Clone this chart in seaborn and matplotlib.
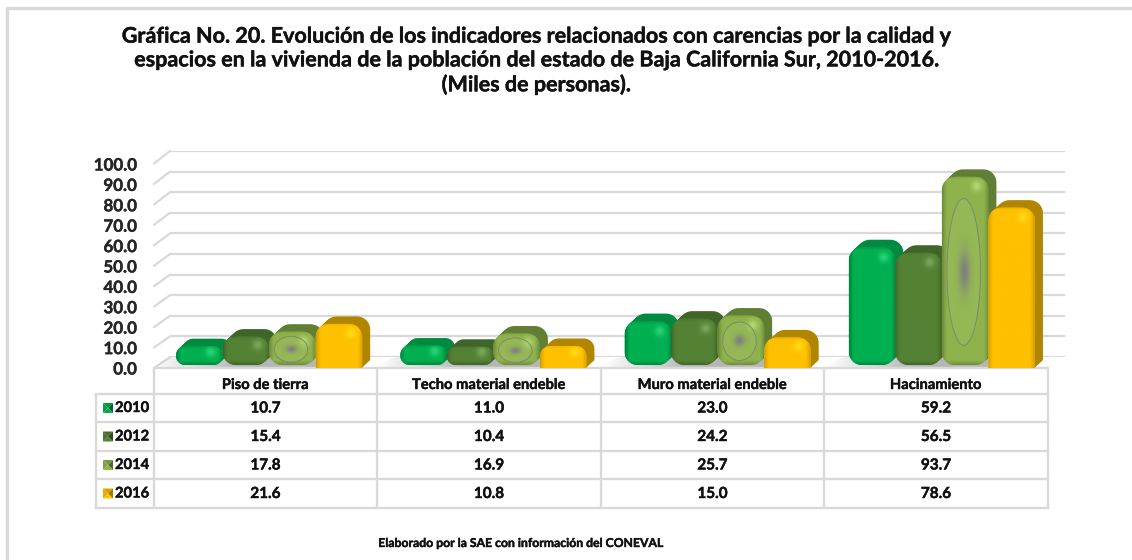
import numpy as np
import pandas as pd
import matplotlib
matplotlib.use("Agg")
import matplotlib.pyplot as plt
import matplotlib.patheffects as pe
import matplotlib.text as mtext
import seaborn as sns
from matplotlib.patches import Polygon, Ellipse
from matplotlib.colors import to_rgb
from matplotlib.ticker import FormatStrFormatter

categories = ["Piso de tierra", "Techo material endeble", "Muro material endeble", "Hacinamiento"]
years = ["2010", "2012", "2014", "2016"]
v2010 = [10.7, 11.0, 23.0, 59.2]
v2012 = [15.4, 10.4, 24.2, 56.5]
v2014 = [17.8, 16.9, 25.7, 93.7]
v2016 = [21.6, 10.8, 15.0, 78.6]
series = [v2010, v2012, v2014, v2016]
title = ("Gráfica No. 20. Evolución de los indicadores relacionados con carencias por la calidad y\n"
         "espacios en la vivienda de la población del estado de Baja California Sur, 2010-2016.\n"
         "(Miles de personas).")
source = "Elaborado por la SAE con información del CONEVAL"
front = ["#00B050", "#548235", "#8FB34C", "#FFC000"]
edge = ["#007A3A", "#3A5C24", "#64803A", "#C99700"]
side = ["#008A40", "#3F6528", "#617F34", "#B08500"]
GRID = "#D9D9D9"

W, H = 1132, 560
sns.set_theme(style="white")
plt.rcParams["font.family"] = ["Lato", "DejaVu Sans"]
plt.rcParams["font.weight"] = "bold"
plt.rcParams["text.color"] = "#111111"
fig = plt.figure(figsize=(W / 100, H / 100), dpi=100, facecolor="white")


def box(l, t, r, b):
    return [l / W, 1 - b / H, (r - l) / W, (b - t) / H]


# back wall with its grid
back = fig.add_axes(box(170, 151, 1065, 357), zorder=0)
back.set_ylim(0, 100)
back.set_xlim(0, 1)
back.set_yticks(np.arange(0, 101, 10))
back.set_xticks([])
back.tick_params(left=False, labelleft=False)
back.grid(axis="y", color=GRID, lw=1.6)
back.set_axisbelow(True)
sns.despine(ax=back, left=True, bottom=True)

# pixel overlay for the 3D look
ov = fig.add_axes([0, 0, 1, 1], zorder=1)
ov.patch.set_alpha(0)
ov.axis("off")

# main chart through seaborn
ax = fig.add_axes(box(157, 164, 1054, 368), zorder=2)
ax.patch.set_alpha(0)
df = pd.DataFrame({"cat": np.repeat(categories, 4),
                   "year": years * 4,
                   "val": [series[j][i] for i in range(4) for j in range(4)]})
sns.barplot(data=df, x="cat", y="val", hue="year", order=categories, hue_order=years,
            palette=front, width=0.83, gap=0, dodge=True, legend=False, errorbar=None, ax=ax)
ax.set_xlim(-0.5, 3.5)
ax.set_ylim(0, 100)
ax.set_yticks(np.arange(0, 101, 10))
ax.yaxis.set_major_formatter(FormatStrFormatter("%.1f"))
ax.tick_params(axis="y", left=False, pad=8.6, labelsize=12.2)
ax.tick_params(axis="x", bottom=False, labelbottom=False)
ax.set_xlabel("")
ax.set_ylabel("")
ax.grid(False)
sns.despine(ax=ax, left=True, bottom=True)

fig.canvas.draw()
bars = []
for k, p in enumerate(ax.patches[:len(years) * len(categories)]):
    (x0, y0), (x1, y1) = ax.transData.transform([(p.get_x(), 0), (p.get_x() + p.get_width(), p.get_height())])
    bars.append((k // len(categories), x0, H - y1, x1 - x0, H - y0))
    p.set_alpha(0)

ov.set_xlim(0, W)
ov.set_ylim(H, 0)

# page frame
ov.add_line(plt.Line2D([6.5, 6.5, W], [H, 8, 8], color=GRID, lw=2.4))

# left wall slants
for k in range(11):
    ov.plot([154, 170], [368 - 20.45 * k, 357 - 20.6 * k], color=GRID, lw=1.6, zorder=1)

col_edges = [154, 377, 601, 824, 1048]
row_edges = [394, 422, 451, 479, 508]

# floor shadows
for c in range(4):
    left = bars[c][1]
    right = left + 186
    shade = np.zeros((1, 100, 4))
    shade[..., :3] = 0.62
    shade[..., 3] = np.clip(np.linspace(0, 1.8, 100), 0, 0.75)
    im = ov.imshow(shade, extent=(left - 24, right, 368, 357), aspect="auto", zorder=1.1)
    poly = Polygon([(left - 24, 367.5), (left - 6, 357), (right, 357), (right, 367.5)],
                   closed=True, fc="none", ec="none", transform=ov.transData)
    ov.add_patch(poly)
    im.set_clip_path(poly)


def outline(x, top, w, h, r, square):
    """Rounded bar outline, in pixels, from the bar's own geometry."""
    a = np.linspace(0, np.pi / 2, 10)
    pts = []
    pts += [(x + r - r * np.cos(t), top + r - r * np.sin(t)) for t in a]
    pts += [(x + w - r + r * np.sin(t), top + r - r * np.cos(t)) for t in a]
    if square:
        pts += [(x + w, top + h), (x, top + h)]
    else:
        pts += [(x + w - r + r * np.cos(t), top + h - r + r * np.sin(t)) for t in a]
        pts += [(x + r - r * np.sin(t), top + h - r + r * np.cos(t)) for t in a]
    return pts


for j in range(4):          # categories
    for s in range(4):      # series, left to right so that each overlaps the last
        _, x, top, w, bottom_raw = bars[s * 4 + j]
        z = 2 + j + s * 0.1
        square = s == 3
        bottom = bottom_raw - 3 if not square else bottom_raw
        h = bottom - top
        r = min(13, h / 2 - 0.5)
        dx, dy = 8, 7.5
        for q in range(1, 9):
            ov.add_patch(Polygon(outline(x + dx * q / 8, top - dy * q / 8, w, h, r, square),
                                 closed=True, fc=side[s], ec="none", zorder=z))
        # front face with shaded rim
        cols, rows = max(int(w * 2), 2), max(int(h * 2), 2)
        xx, yy = np.meshgrid((np.arange(cols) + .5) / 2, (np.arange(rows) + .5) / 2)
        bot = np.full_like(yy, 99.0) if square else h - yy
        d = np.minimum.reduce([xx, w - xx, yy + 2, bot])
        t = np.clip(d / 5.0, 0, 1) ** 0.7
        base = np.array(to_rgb(front[s]))
        dark = np.array(to_rgb(edge[s]))
        img = dark[None, None, :] + (base - dark)[None, None, :] * t[..., None]
        hx, hy = w * 0.74, min(10, h * 0.3)
        g = np.exp(-(((xx - hx) / 5) ** 2 + ((yy - hy) / 5) ** 2))
        light = np.array([1.0, 0.93, 0.15]) if s == 3 else np.minimum(base + 0.25, 1)
        img = img + (light - img) * (0.6 * g)[..., None]
        fp = Polygon(outline(x, top, w, h, r, square), closed=True, fc=front[s], ec="none", zorder=z + 0.01)
        ov.add_patch(fp)
        im = ov.imshow(img, extent=(x, x + w, bottom, top), aspect="auto", zorder=z + 0.02)
        im.set_clip_path(fp)
        if s == 2:  # dished centre of this series
            cx, cy = x + w * 0.47, top + h / 2 + 1
            eh, ew = h * 0.78, w * 0.72
            ov.add_patch(Ellipse((cx, cy), ew, eh, fc="#A3BF66", ec="none", alpha=0.35, zorder=z + 0.04))
            ov.add_patch(Ellipse((cx, cy), ew, eh, fc="none", ec="#7E8A6A", lw=0.7, zorder=z + 0.04))
            gx, gy = np.meshgrid(np.linspace(-1, 1, 30), np.linspace(-1, 1, 60))
            core = np.zeros((60, 30, 4))
            core[..., :3] = 0.50
            core[..., 3] = np.exp(-(gx ** 2 + gy ** 2) * 3.5)
            ov.imshow(core, extent=(cx - ew * 0.3, cx + ew * 0.3, cy + eh * 0.26, cy - eh * 0.26),
                      aspect="auto", zorder=z + 0.05)

# data table
tb_left = 96
for y in row_edges:
    ov.plot([tb_left, col_edges[-1]], [y, y], color=GRID, lw=1.7, zorder=1.2)
ov.plot([tb_left, tb_left], [row_edges[0], row_edges[-1]], color=GRID, lw=1.7, zorder=1.2)
ov.plot([col_edges[0], col_edges[-1]], [368, 368], color=GRID, lw=1.7, zorder=1.2)
for x in col_edges:
    ov.plot([x, x], [368, row_edges[-1]], color=GRID, lw=1.7, zorder=1.2)

for j, name in enumerate(categories):
    cx = (col_edges[j] + col_edges[j + 1]) / 2
    ov.text(cx, 385, name, ha="center", va="center", fontsize=10.6, fontweight="bold")
for s, yr in enumerate(years):
    cy = (row_edges[s] + row_edges[s + 1]) / 2
    l, t0, sz = 103, cy - 5, 10
    cen = (l + sz / 2, t0 + sz / 2)
    base = np.array(to_rgb(front[s]))
    dark = np.array(to_rgb(edge[s]))
    tri = [((l, t0), (l + sz, t0), base * .85),
           ((l + sz, t0), (l + sz, t0 + sz), dark * .8),
           ((l + sz, t0 + sz), (l, t0 + sz), base),
           ((l, t0 + sz), (l, t0), base * .9)]
    for a_, b_, col in tri:
        ov.add_patch(Polygon([a_, b_, cen], closed=True, fc=col, ec="none", zorder=3))
    ov.text(115, cy, yr, ha="left", va="center", fontsize=10.6, fontweight="bold")
    for j in range(4):
        cx = (col_edges[j] + col_edges[j + 1]) / 2
        ov.text(cx, cy + 0.5, f"{series[s][j]:.1f}", ha="center", va="center", fontsize=11, fontweight="bold")

fig.suptitle(title, x=536 / W, y=1 - 60.5 / H, ha="center", va="center",
             fontsize=15.5, fontweight="bold", linespacing=1.16)
fig.text(521 / W, 1 - 543.5 / H, source, ha="center", va="center", fontsize=8.8, fontweight="bold")

for tx in fig.findobj(mtext.Text):
    if tx.get_text():
        tx.set_path_effects([pe.withStroke(linewidth=0.3, foreground=tx.get_color())])

ov.set_xlim(0, W)
ov.set_ylim(H, 0)
fig.savefig("out.png", dpi=100, facecolor="white")
